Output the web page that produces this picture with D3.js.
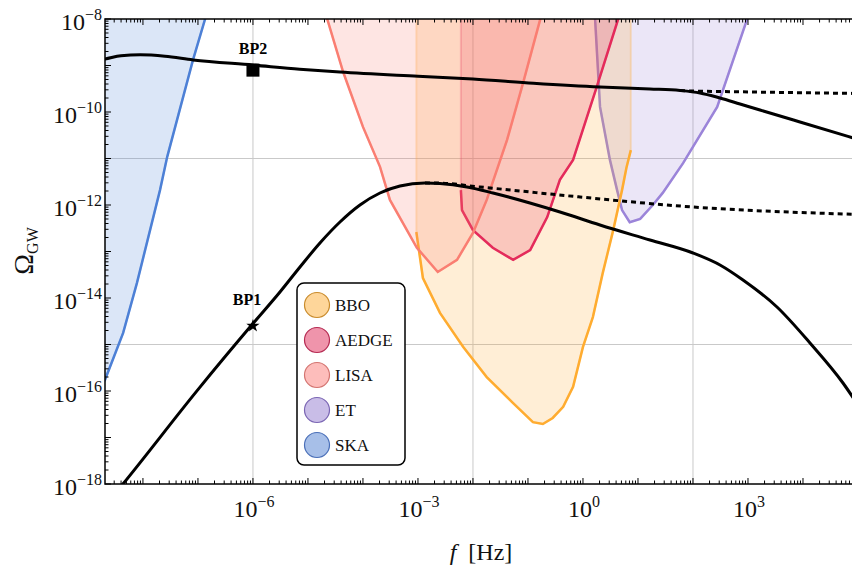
<!DOCTYPE html>
<html>
<head>
<meta charset="utf-8">
<script src="https://cdn.jsdelivr.net/npm/d3@7"></script>
<style>
  body { margin: 0; background: #fff; }
</style>
</head>
<body>
<div class="container"></div>
<script>
// all values are log10(f / Hz), log10(Omega_GW)

// benchmark point spectra
var bp2Solid = [[-8.8,-8.88],[-8.69,-8.86],[-8.4,-8.79],[-8.05,-8.77],[-7.6,-8.8],[-7.09,-8.88],
  [-6.0,-8.99],[-5.15,-9.08],[-4.42,-9.14],[-3.0,-9.23],[-2.0,-9.29],[-0.9,-9.38],[0.309,-9.462],
  [1.218,-9.505],[1.764,-9.538],[2.127,-9.591],[2.491,-9.699],[2.855,-9.828],[3.218,-9.957],
  [3.945,-10.215],[5.036,-10.602]];
var bp2Dotted = [[1.764,-9.538],[1.945,-9.548],[2.491,-9.559],[5.036,-9.602]];
var bp1Solid = [[-8.6,-18.34],[-8.364,-18.0],[-7.0,-15.97],[-6.0,-14.55],[-5.509,-13.871],
  [-5.145,-13.333],[-4.782,-12.817],[-4.418,-12.366],[-4.055,-12.0],[-3.691,-11.742],
  [-3.327,-11.591],[-2.873,-11.527],[-2.6,-11.538],[-2.109,-11.613],[-1.636,-11.742],
  [-0.964,-11.957],[-0.418,-12.151],[0.309,-12.43],[1.218,-12.753],[2.0,-13.032],
  [2.491,-13.29],[2.909,-13.613],[3.527,-14.194],[4.127,-14.968],[4.727,-15.828],[5.036,-16.366]];
var bp1Dotted = [[-2.873,-11.527],[-2.655,-11.527],[-1.873,-11.613],[-0.055,-11.828],[2.0,-12.043],[5.036,-12.204]];
var bp1Marker = [-6.0, -14.6];
var bp2Marker = [-6.0, -9.1];

// detector sensitivity curves
var skaCurve = [[-8.8,-15.95],[-8.69,-15.76],[-8.36,-14.75],[-8.11,-13.68],[-7.69,-11.68],
  [-7.56,-10.97],[-7.09,-8.88],[-6.87,-8.0],[-6.83,-7.8]];
var etCurve = [[0.2,-7.8],[0.22,-8.0],[0.31,-9.89],[0.49,-11.03],[0.62,-11.68],[0.71,-12.11],
  [0.85,-12.37],[1.04,-12.3],[1.27,-12.0],[1.45,-11.74],[1.82,-11.1],[2.44,-9.89],[2.98,-8.02],[3.05,-7.8]];
var bboCurve = [[-3.03,-12.58],[-2.91,-13.57],[-2.6,-14.32],[-2.18,-15.05],[-1.75,-15.7],
  [-1.27,-16.26],[-0.91,-16.67],[-0.73,-16.71],[-0.55,-16.58],[-0.36,-16.34],[-0.18,-15.91],
  [0.0,-15.05],[0.18,-14.41],[0.36,-13.46],[0.55,-12.54],[0.71,-11.68],[0.79,-11.2],[0.87,-10.82]];
var aedgeCurve = [[-2.22,-11.68],[-2.2,-12.11],[-2.0,-12.54],[-1.64,-12.92],[-1.27,-13.18],
  [-0.96,-12.97],[-0.65,-12.26],[-0.42,-11.46],[-0.18,-11.03],[0.25,-9.46],[0.64,-8.0],[0.7,-7.8]];
var lisaCurve = [[-4.7,-7.8],[-4.65,-8.0],[-4.36,-9.14],[-4.0,-10.32],[-3.69,-11.18],[-3.51,-11.89],
  [-3.02,-12.92],[-2.64,-13.44],[-2.29,-13.18],[-2.0,-12.6],[-1.75,-11.89],[-1.38,-10.6],
  [-1.09,-9.38],[-0.78,-8.02],[-0.75,-7.8]];

var legendNames = ["BBO", "AEDGE", "LISA", "ET", "SKA"];
var xTickExp = [-6, -3, 0, 3];
var yTickExp = [-8, -10, -12, -14, -16, -18];
var xGridExp = [-6, -2, 2];
var yGridExp = [-11, -15];

var FONT = "Liberation Serif";
var width = 852, height = 565;
var svg = d3.select(".container").append("svg")
  .attr("width", width)
  .attr("height", height);

var x = d3.scaleLog().domain([Math.pow(10, -8.69), 1e5]).range([105, 858]);
var y = d3.scaleLog().domain([1e-18, 1e-8]).range([484, 19]);
var X = function (d) { return x(Math.pow(10, d[0])); };
var Y = function (d) { return y(Math.pow(10, d[1])); };

svg.append("defs").append("clipPath").attr("id", "plotClip")
  .append("rect").attr("x", 105).attr("y", 19).attr("width", 753).attr("height", 465);

// grid lines
var grid = svg.append("g").attr("stroke", "#c9c9c9").attr("stroke-width", 1);
grid.selectAll(".gx").data(xGridExp).join("line")
  .attr("x1", function (d) { return x(Math.pow(10, d)); })
  .attr("x2", function (d) { return x(Math.pow(10, d)); })
  .attr("y1", 19).attr("y2", 484);
grid.selectAll(".gy").data(yGridExp).join("line")
  .attr("y1", function (d) { return y(Math.pow(10, d)); })
  .attr("y2", function (d) { return y(Math.pow(10, d)); })
  .attr("x1", 105).attr("x2", 858);

var plot = svg.append("g").attr("clip-path", "url(#plotClip)");

var area = d3.area().x(X).y0(y(1e-7)).y1(Y);
var line = d3.line().x(X).y(Y);

var detectors = [
  { name: "ET", data: etCurve, color: "#9b84d9" },
  { name: "BBO", data: bboCurve, color: "#ffac30" },
  { name: "AEDGE", data: aedgeCurve, color: "#e42b5b" },
  { name: "LISA", data: lisaCurve, color: "#fa7e72" },
  { name: "SKA", data: skaCurve, color: "#4d80d6" }
];

detectors.forEach(function (det) {
  plot.append("path")
    .attr("d", area(det.data))
    .attr("fill", det.color)
    .attr("fill-opacity", 0.2)
    .attr("stroke", det.color)
    .attr("stroke-opacity", 0.25)
    .attr("stroke-width", 2);
  plot.append("path")
    .attr("d", line(det.data))
    .attr("fill", "none")
    .attr("stroke", det.color)
    .attr("stroke-width", 2.5);
});

// benchmark spectra
var smooth = d3.line().x(X).y(Y).curve(d3.curveMonotoneX);
[bp2Solid, bp1Solid].forEach(function (s) {
  plot.append("path").attr("d", smooth(s))
    .attr("fill", "none").attr("stroke", "#000").attr("stroke-width", 3);
});
[bp2Dotted, bp1Dotted].forEach(function (s) {
  plot.append("path").attr("d", smooth(s))
    .attr("fill", "none").attr("stroke", "#000").attr("stroke-width", 3)
    .attr("stroke-dasharray", "5,4");
});

// markers
svg.append("rect")
  .attr("x", X(bp2Marker) - 6.5).attr("y", Y(bp2Marker) - 6.5)
  .attr("width", 13).attr("height", 13).attr("fill", "#000");
svg.append("path")
  .attr("transform", "translate(" + X(bp1Marker) + "," + Y(bp1Marker) + ")")
  .attr("d", d3.symbol().type(d3.symbolStar).size(55)())
  .attr("fill", "#000");
svg.append("text").attr("x", X(bp2Marker)).attr("y", 54).attr("font-family", FONT)
  .attr("text-anchor", "middle").attr("font-weight", "bold").attr("font-size", 16).text("BP2");
svg.append("text").attr("x", X(bp1Marker) - 6).attr("y", 305).attr("font-family", FONT)
  .attr("text-anchor", "middle").attr("font-weight", "bold").attr("font-size", 16).text("BP1");

// axes ticks (inward, on all four sides)
var ax = svg.append("g").attr("stroke", "#000");
var xMinor = [], yMinor = [];
for (var e = -9; e <= 5; e++) {
  for (var k = 1; k <= 9; k++) {
    var v = k * Math.pow(10, e);
    if (v >= x.domain()[0] && v <= 1e5) xMinor.push({ v: v, major: k === 1 });
  }
}
for (var e2 = -18; e2 <= -8; e2++) {
  for (var k2 = 1; k2 <= 9; k2++) {
    var v2 = k2 * Math.pow(10, e2);
    if (v2 <= 1e-8) yMinor.push({ v: v2, major: k2 === 1 });
  }
}
xMinor.forEach(function (t) {
  var len = t.major ? 6 : 3.5, px = x(t.v);
  ax.append("line").attr("x1", px).attr("x2", px).attr("y1", 484).attr("y2", 484 - len).attr("stroke-width", 1);
  ax.append("line").attr("x1", px).attr("x2", px).attr("y1", 19).attr("y2", 19 + len).attr("stroke-width", 1);
});
yMinor.forEach(function (t) {
  var len = t.major ? 6 : 3.5, py = y(t.v);
  ax.append("line").attr("y1", py).attr("y2", py).attr("x1", 105).attr("x2", 105 + len).attr("stroke-width", 1);
  ax.append("line").attr("y1", py).attr("y2", py).attr("x1", 858).attr("x2", 858 - len).attr("stroke-width", 1);
});
svg.append("rect").attr("x", 105).attr("y", 19).attr("width", 753).attr("height", 465)
  .attr("fill", "none").attr("stroke", "#000").attr("stroke-width", 1.5);

// tick labels
xTickExp.forEach(function (d) {
  var t = svg.append("text").attr("x", x(Math.pow(10, d)) + 1).attr("y", 517)
    .attr("font-family", FONT).attr("fill", "#111")
    .attr("text-anchor", "middle").attr("font-size", 24);
  t.append("tspan").text("10");
  t.append("tspan").attr("font-size", 16).attr("dy", -10).text(d < 0 ? "\u2212" + (-d) : d);
});
yTickExp.forEach(function (d) {
  var t = svg.append("text").attr("x", 102).attr("y", y(Math.pow(10, d)) + 11)
    .attr("font-family", FONT).attr("fill", "#111")
    .attr("text-anchor", "end").attr("font-size", 24);
  t.append("tspan").text("10");
  t.append("tspan").attr("font-size", 16).attr("dy", -10).text("\u2212" + (-d));
});

// axis titles
var xt = svg.append("text").attr("x", 481).attr("y", 560).attr("font-family", FONT).attr("fill", "#111")
  .attr("text-anchor", "middle").attr("font-size", 24);
xt.append("tspan").attr("font-style", "italic").text("f");
xt.append("tspan").text("\u2002[Hz]");
var yt = svg.append("text").attr("transform", "translate(33,251) rotate(-90)")
  .attr("font-family", FONT).attr("fill", "#111")
  .attr("text-anchor", "middle").attr("font-size", 28);
yt.append("tspan").text("\u03A9");
yt.append("tspan").attr("font-size", 16).attr("dy", 5).text("GW");

// legend
var legendFill = ["#fed69a", "#ef94ab", "#fdbdbb", "#c9bde7", "#a7bfe8"];
var legendStroke = ["#c98b2c", "#b52a52", "#d37470", "#7a65b3", "#4a6fb8"];
var lg = svg.append("g");
lg.append("rect").attr("x", 297).attr("y", 283).attr("width", 108).attr("height", 182)
  .attr("rx", 7).attr("fill", "#fff").attr("stroke", "#000").attr("stroke-width", 1.5);
lg.selectAll("circle").data(legendNames).join("circle")
  .attr("cx", 317).attr("cy", function (d, i) { return 305 + 35 * i; })
  .attr("r", 12.5)
  .attr("fill", function (d, i) { return legendFill[i]; })
  .attr("stroke", function (d, i) { return legendStroke[i]; })
  .attr("stroke-width", 1.2);
lg.selectAll("text").data(legendNames).join("text")
  .attr("x", 335).attr("y", function (d, i) { return 311 + 35 * i; })
  .attr("font-family", FONT).attr("fill", "#111")
  .attr("font-size", 17).text(function (d) { return d; });
</script>
</body>
</html>
